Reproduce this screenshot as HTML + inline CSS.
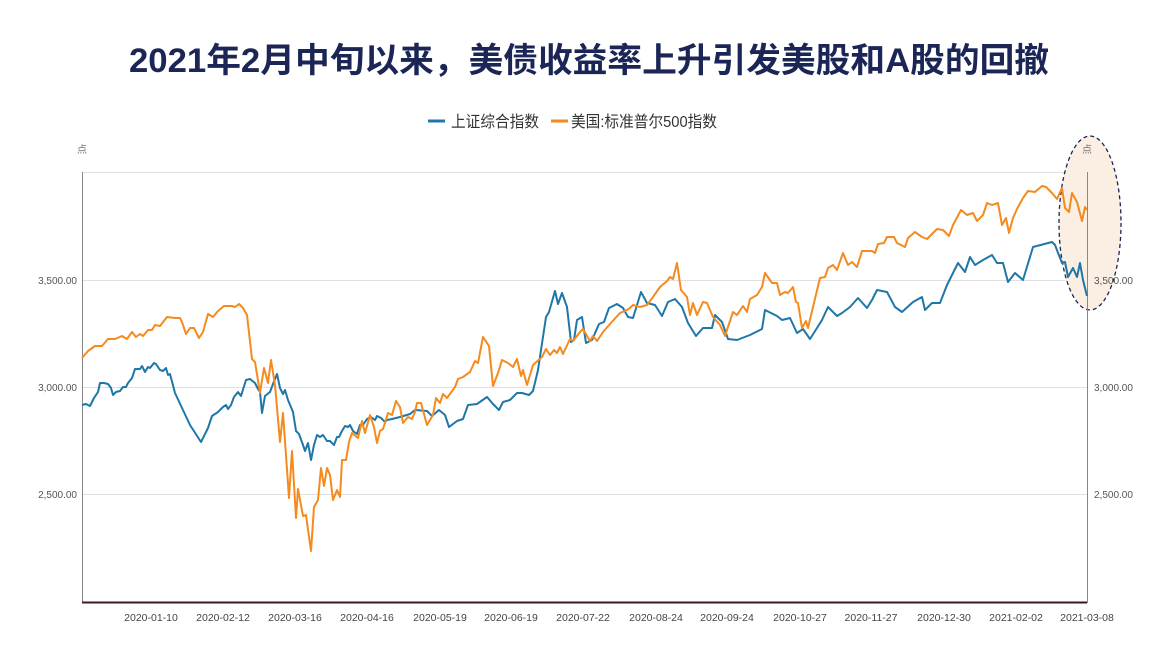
<!DOCTYPE html>
<html><head><meta charset="utf-8"><style>
body{margin:0;background:#fff;}
svg{display:block;font-family:"Liberation Sans","Noto Sans CJK SC",sans-serif;}
</style></head><body>
<svg width="1151" height="645" viewBox="0 0 1151 645">
<text x="589" y="72" text-anchor="middle" font-size="34" font-weight="bold" fill="#1b2656" textLength="920" lengthAdjust="spacingAndGlyphs">2021年2月中旬以来，美债收益率上升引发美股和A股的回撤</text>
<line x1="428" y1="121" x2="445" y2="121" stroke="#1f77a8" stroke-width="3"/>
<text x="451" y="127" font-size="16" fill="#333" textLength="88" lengthAdjust="spacingAndGlyphs">上证综合指数</text>
<line x1="551" y1="121" x2="568" y2="121" stroke="#f58a1f" stroke-width="3"/>
<text x="571" y="127" font-size="16" fill="#333" textLength="146" lengthAdjust="spacingAndGlyphs">美国:标准普尔500指数</text>
<text x="77" y="153" font-size="10" fill="#777">点</text>
<g stroke="#e0e0e0" stroke-width="1">
<line x1="82" y1="172.5" x2="1087" y2="172.5"/>
<line x1="82" y1="280.5" x2="1087" y2="280.5"/>
<line x1="82" y1="387.5" x2="1087" y2="387.5"/>
<line x1="82" y1="494.5" x2="1087" y2="494.5"/>
</g>
<line x1="82.5" y1="172" x2="82.5" y2="603" stroke="#888"/>
<g font-size="10" fill="#555" text-anchor="end">
<text x="77" y="284">3,500.00</text><text x="77" y="391">3,000.00</text><text x="77" y="498">2,500.00</text>
</g>
<ellipse cx="1090" cy="223" rx="31" ry="87" fill="#fbeee3" stroke="#1b2656" stroke-width="1.3" stroke-dasharray="4,3"/>
<line x1="1087.5" y1="172" x2="1087.5" y2="603" stroke="#888"/>
<text x="1082" y="153" font-size="10" fill="#777">点</text>
<g font-size="10" fill="#555">
<text x="1094" y="284">3,500.00</text><text x="1094" y="391">3,000.00</text><text x="1094" y="498">2,500.00</text>
</g>
<line x1="82" y1="602.5" x2="1087" y2="602.5" stroke="#3a1a1a" stroke-width="2"/>
<g font-size="10.5" fill="#444" text-anchor="middle">
<text x="151" y="621">2020-01-10</text><text x="223" y="621">2020-02-12</text><text x="295" y="621">2020-03-16</text><text x="367" y="621">2020-04-16</text><text x="440" y="621">2020-05-19</text><text x="511" y="621">2020-06-19</text><text x="583" y="621">2020-07-22</text><text x="656" y="621">2020-08-24</text><text x="727" y="621">2020-09-24</text><text x="800" y="621">2020-10-27</text><text x="871" y="621">2020-11-27</text><text x="944" y="621">2020-12-30</text><text x="1016" y="621">2021-02-02</text><text x="1087" y="621">2021-03-08</text>
</g>
<polyline fill="none" stroke="#1f77a8" stroke-width="2" stroke-linejoin="round" points="82,405 86,404 90,406 94,398 98,392 100,383 104,383 108,384 111,388 113,395 116,392 120,391 123,387 126,387 128,383 132,378 135,369 140,369 142,366 145,372 148,367 150,368 154,363 156,364 160,370 163,371 166,368 168,375 170,374 175,393 190,425 201,442 208,428 212,416 218,412 223,407 226,405 228,409 231,405 234,397 238,392 241,396 246,380 250,379 255,383 258,389 260,392 262,413 265,396 270,392 273,384 277,374 280,388 283,394 285,390 288,400 293,412 296,431 299,434 303,445 305,451 308,443 311,460 314,445 317,435 320,437 323,435 327,441 330,441 334,445 337,437 339,437 342,431 345,426 348,427 350,425 353,431 357,434 360,425 363,425 367,419 371,417 375,420 377,416 381,418 385,422 387,420 392,419 400,417 410,414 415,410 427,411 432,416 439,410 445,415 449,427 457,421 463,419 468,405 477,404 487,397 493,404 499,410 503,402 510,400 517,393 522,393 529,395 533,391 538,370 546,317 549,312 555,291 558,304 562,293 567,307 571,342 574,340 577,320 582,317 586,343 592,340 599,324 604,322 609,308 617,304 623,308 628,317 633,318 641,292 647,303 655,305 662,316 668,302 675,299 682,307 688,323 696,336 703,328 712,328 715,315 722,322 728,339 737,340 750,335 762,329 765,310 777,316 782,320 790,318 797,333 803,329 810,339 817,328 822,320 828,307 837,316 842,313 850,307 858,298 867,308 872,300 877,290 887,292 895,307 902,312 913,302 922,297 925,310 932,303 940,303 947,285 958,263 965,272 970,257 975,265 983,260 992,255 997,263 1003,263 1008,282 1015,273 1023,280 1033,247 1052,242 1055,245 1062,263 1065,262 1068,277 1073,268 1077,277 1080,263 1083,280 1087,296"/>
<polyline fill="none" stroke="#f58a1f" stroke-width="2" stroke-linejoin="round" points="82,358 88,351 95,346 102,346 108,339 115,339 122,336 127,339 132,332 136,337 140,334 143,336 148,330 152,330 155,325 160,326 167,317 175,318 180,318 182,322 186,334 190,328 194,328 199,338 203,332 208,314 213,317 218,311 224,306 232,306 235,307 239,304 243,308 247,315 252,359 255,362 260,393 264,368 268,383 271,360 275,385 280,442 283,413 289,498 292,451 296,518 298,489 303,516 306,515 311,551 314,507 318,500 321,468 324,486 327,468 330,475 333,500 337,490 340,497 342,460 346,460 349,442 352,433 358,438 362,421 365,433 370,415 374,427 377,443 380,431 383,429 388,413 392,415 396,401 400,407 403,423 408,417 412,419 415,412 417,403 421,403 427,425 433,415 436,398 440,403 443,394 447,398 455,387 458,379 463,377 470,372 475,361 478,363 483,337 489,346 493,386 498,373 502,360 508,363 513,367 517,359 521,376 523,370 527,385 533,365 542,357 546,349 550,355 554,350 557,353 560,347 563,354 570,339 573,341 580,332 583,329 590,341 593,336 597,341 603,332 610,324 620,313 625,311 630,308 633,305 640,307 647,305 653,297 660,287 667,281 670,277 673,279 677,263 681,290 687,297 690,315 693,303 697,315 703,302 707,303 713,317 720,325 725,336 733,312 737,315 743,306 747,312 750,299 757,295 762,287 765,273 772,283 777,283 780,295 785,292 788,293 793,287 796,302 798,303 802,328 806,321 808,328 813,307 820,278 825,277 828,268 833,265 837,270 843,253 848,265 852,262 857,267 862,251 872,251 875,253 878,244 884,243 887,237 894,237 897,243 905,247 908,238 915,232 922,237 927,239 937,229 943,230 949,236 953,225 961,210 967,215 973,213 977,221 983,215 987,203 992,205 998,203 1002,225 1006,218 1009,233 1013,218 1017,209 1023,198 1028,191 1035,192 1042,186 1046,187 1052,193 1057,199 1062,188 1065,208 1069,212 1072,193 1077,202 1082,221 1085,207 1087,210"/>
</svg>
</body></html>
